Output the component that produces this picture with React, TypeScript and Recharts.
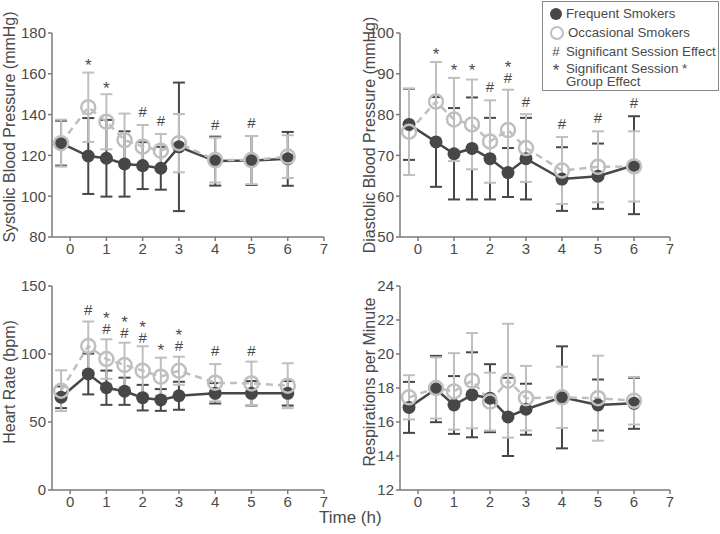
import { ComposedChart, Line, Scatter, XAxis, YAxis, ErrorBar } from 'recharts'

// time points (h); the baseline sample sits just before 0
const times = [-0.25, 0.5, 1, 1.5, 2, 2.5, 3, 4, 5, 6]
const xTicks = [0, 1, 2, 3, 4, 5, 6, 7]

// systolic blood pressure
const sysFreq = [126, 119.7, 118.6, 115.8, 115, 113.7, 124.2, 117.2, 117.5, 118.3]
const sysFreqErr = [11, 18.6, 18.8, 16, 11.5, 10.5, 31.5, 12, 12, 13.2]
const sysOcc = [126, 143.6, 136.5, 127.5, 124.3, 122.3, 126, 117.7, 117.7, 119.4]
const sysOccErr = [11.5, 17, 13.5, 13, 10.6, 8.2, 14.3, 11, 11.8, 10.5]
const sysTicks = [80, 100, 120, 140, 160, 180]
// significance marks: '#' session effect, '*' session x group, '*#' both stacked
const sysMarks = [
  { t: 0.5, y: 167, s: '*' },
  { t: 1, y: 156, s: '*' },
  { t: 2, y: 141.4, s: '#' },
  { t: 2.5, y: 137, s: '#' },
  { t: 4, y: 135, s: '#' },
  { t: 5, y: 136, s: '#' },
]

// diastolic blood pressure
const diaFreq = [77.6, 73.3, 70.4, 71.7, 69.2, 65.8, 69.2, 64.2, 64.9, 67.6]
const diaFreqErr = [8.7, 11, 11.2, 12.5, 10, 6, 10, 7.8, 8, 12]
const diaOcc = [75.8, 83.2, 78.8, 77.6, 73.4, 76.2, 71.8, 66.3, 67.2, 67.3]
const diaOccErr = [10.6, 9.7, 10.2, 11, 10.1, 9.9, 8.3, 8.2, 8.7, 8.6]
const diaTicks = [50, 60, 70, 80, 90, 100]
const diaMarks = [
  { t: 0.5, y: 96.4, s: '*' },
  { t: 1, y: 92.4, s: '*' },
  { t: 1.5, y: 92.4, s: '*' },
  { t: 2, y: 86.9, s: '#' },
  { t: 2.5, y: 89, s: '*#' },
  { t: 3, y: 83.3, s: '#' },
  { t: 4, y: 77.9, s: '#' },
  { t: 5, y: 79.3, s: '#' },
  { t: 6, y: 83, s: '#' },
]

// heart rate
const hrFreq = [68.2, 85.3, 75.2, 72.6, 67.9, 66.2, 69.3, 71.1, 71.1, 71.1]
const hrFreqErr = [8, 15, 12.6, 10, 9.4, 8, 10.3, 7.5, 9, 9]
const hrOcc = [73, 105.9, 96.3, 91.9, 87.7, 83.3, 87.7, 78.9, 78.4, 76.7]
const hrOccErr = [15, 18, 14.5, 16.4, 18, 14, 10.3, 13.7, 16, 16.5]
const hrTicks = [0, 50, 100, 150]
const hrMarks = [
  { t: 0.5, y: 132.4, s: '#' },
  { t: 1, y: 118.9, s: '*#' },
  { t: 1.5, y: 116, s: '*#' },
  { t: 2, y: 112.3, s: '*#' },
  { t: 2.5, y: 107.1, s: '*' },
  { t: 3, y: 106.1, s: '*#' },
  { t: 4, y: 102.4, s: '#' },
  { t: 5, y: 102.4, s: '#' },
]

// respirations per minute
const rrFreq = [16.86, 17.94, 17, 17.6, 17.4, 16.3, 16.75, 17.45, 17, 17.1]
const rrFreqErr = [1.5, 1.95, 1.7, 2.5, 2, 2.3, 1.5, 3, 1.5, 1.5]
const rrOcc = [17.45, 18, 17.8, 18.43, 17.2, 18.43, 17.4, 17.45, 17.4, 17.25]
const rrOccErr = [1.3, 1.8, 2.25, 2.8, 1.7, 3.35, 1.9, 1.8, 2.5, 1.4]
const rrTicks = [12, 14, 16, 18, 20, 22, 24]

const DARK = '#474747'
const LIGHT = '#bfbfbf'
const AXIS = '#7a7a7a'
const TEXT = '#4a4a4a'
const FONT = '"Liberation Sans", Arial, sans-serif'

const build = (f: number[], fe: number[], o: number[], oe: number[]) =>
  times.map((t, i) => ({ t, freq: f[i], freqErr: fe[i], occ: o[i], occErr: oe[i] }))

const MarkShape = (props: any) => {
  const { cx, cy, payload } = props
  const s = payload.s
  if (s === '*#') {
    return (
      <text x={cx} textAnchor="middle" fill={TEXT} fontFamily={FONT}>
        <tspan x={cx} y={cy - 4.6} fontSize={17}>*</tspan>
        <tspan x={cx} y={cy + 5.4} fontSize={15}>#</tspan>
      </text>
    )
  }
  const star = s === '*'
  return (
    <text x={cx} y={cy} dy={star ? '0.7em' : '0.36em'} textAnchor="middle"
      fontSize={star ? 17 : 15} fill={TEXT} fontFamily={FONT}>
      {s}
    </text>
  )
}

const tickStyle = { fill: TEXT, fontSize: 15, fontFamily: FONT }

function Panel({ left, top, yWidth, right, data, marks, domain, ticks, label, labelDy }: any) {
  return (
    <div style={{ position: 'absolute', left, top }}>
      <ComposedChart width={360} height={267} data={data} margin={{ top: 33, right, bottom: 0, left: 0 }}>
        <XAxis
          dataKey="t"
          type="number"
          domain={[-0.5, 7]}
          ticks={xTicks}
          height={30}
          tick={tickStyle}
          tickSize={4}
          stroke={AXIS}
          strokeWidth={1.5}
        />
        <YAxis
          type="number"
          domain={domain}
          ticks={ticks}
          width={yWidth}
          tick={tickStyle}
          tickSize={4}
          stroke={AXIS}
          strokeWidth={1.5}
          label={{
            value: label,
            angle: -90,
            position: 'insideLeft',
            offset: 9,
            dy: labelDy,
            style: { textAnchor: 'middle', fill: TEXT, fontSize: 16, fontFamily: FONT },
          }}
        />
        <Line
          dataKey="freq"
          stroke={DARK}
          strokeWidth={2.5}
          dot={{ r: 6.5, fill: DARK, stroke: DARK, strokeWidth: 0 }}
          isAnimationActive={false}
        >
          <ErrorBar dataKey="freqErr" direction="y" width={6} stroke={DARK} strokeWidth={2} />
        </Line>
        <Line
          dataKey="occ"
          stroke={LIGHT}
          strokeWidth={2.5}
          strokeDasharray="7 5"
          dot={{ r: 7, fill: 'none', stroke: LIGHT, strokeWidth: 2.5, strokeDasharray: '' }}
          isAnimationActive={false}
        >
          <ErrorBar dataKey="occErr" direction="y" width={6} stroke={LIGHT} strokeWidth={2} />
        </Line>
        {marks && (
          <Scatter data={marks} dataKey="y" shape={<MarkShape />} isAnimationActive={false} />
        )}
      </ComposedChart>
    </div>
  )
}

export default function App() {
  const row = { display: 'flex', alignItems: 'center', height: 19, whiteSpace: 'nowrap' as const }
  return (
    <div style={{ position: 'absolute', left: 0, top: 0, width: 720, height: 534, background: '#fff', fontFamily: FONT }}>
      <Panel left={0} top={0} yWidth={52} right={36}
        data={build(sysFreq, sysFreqErr, sysOcc, sysOccErr)} marks={sysMarks}
        domain={[80, 180]} ticks={sysTicks} label="Systolic Blood Pressure (mmHg)" labelDy={-8} />
      <Panel left={360} top={0} yWidth={40} right={50}
        data={build(diaFreq, diaFreqErr, diaOcc, diaOccErr)} marks={diaMarks}
        domain={[50, 100]} ticks={diaTicks} label="Diastolic Blood Pressure (mmHg)" labelDy={0} />
      <Panel left={0} top={253} yWidth={52} right={36}
        data={build(hrFreq, hrFreqErr, hrOcc, hrOccErr)} marks={hrMarks}
        domain={[0, 150]} ticks={hrTicks} label="Heart Rate (bpm)" labelDy={-6} />
      <Panel left={360} top={253} yWidth={40} right={50}
        data={build(rrFreq, rrFreqErr, rrOcc, rrOccErr)} marks={null}
        domain={[12, 24]} ticks={rrTicks} label="Respirations per Minute" labelDy={-6} />
      <div style={{ position: 'absolute', left: 319, top: 508, fontSize: 17, color: TEXT }}>Time (h)</div>
      <div style={{
        position: 'absolute', left: 542, top: 1, width: 177, height: 90, boxSizing: 'border-box',
        border: '1.5px solid #8a8a8a', background: '#fff', padding: '2px 0 0 7px', fontSize: 13.3, color: TEXT,
      }}>
        <div style={row}>
          <span style={{ width: 12, height: 12, borderRadius: 6, background: DARK, marginRight: 4 }} />
          Frequent Smokers
        </div>
        <div style={row}>
          <span style={{ width: 10, height: 10, borderRadius: 7, border: `2px solid ${LIGHT}`, marginRight: 4 }} />
          Occasional Smokers
        </div>
        <div style={row}>
          <span style={{ width: 12, marginRight: 4, textAlign: 'center' }}>#</span>
          Significant Session Effect
        </div>
        <div style={{ display: 'flex', alignItems: 'flex-start', lineHeight: '13px', marginTop: 1, whiteSpace: 'nowrap' }}>
          <span style={{ width: 12, marginRight: 4, textAlign: 'center', fontSize: 17, lineHeight: '17px' }}>*</span>
          <span>Significant Session *<br />Group Effect</span>
        </div>
      </div>
    </div>
  )
}
